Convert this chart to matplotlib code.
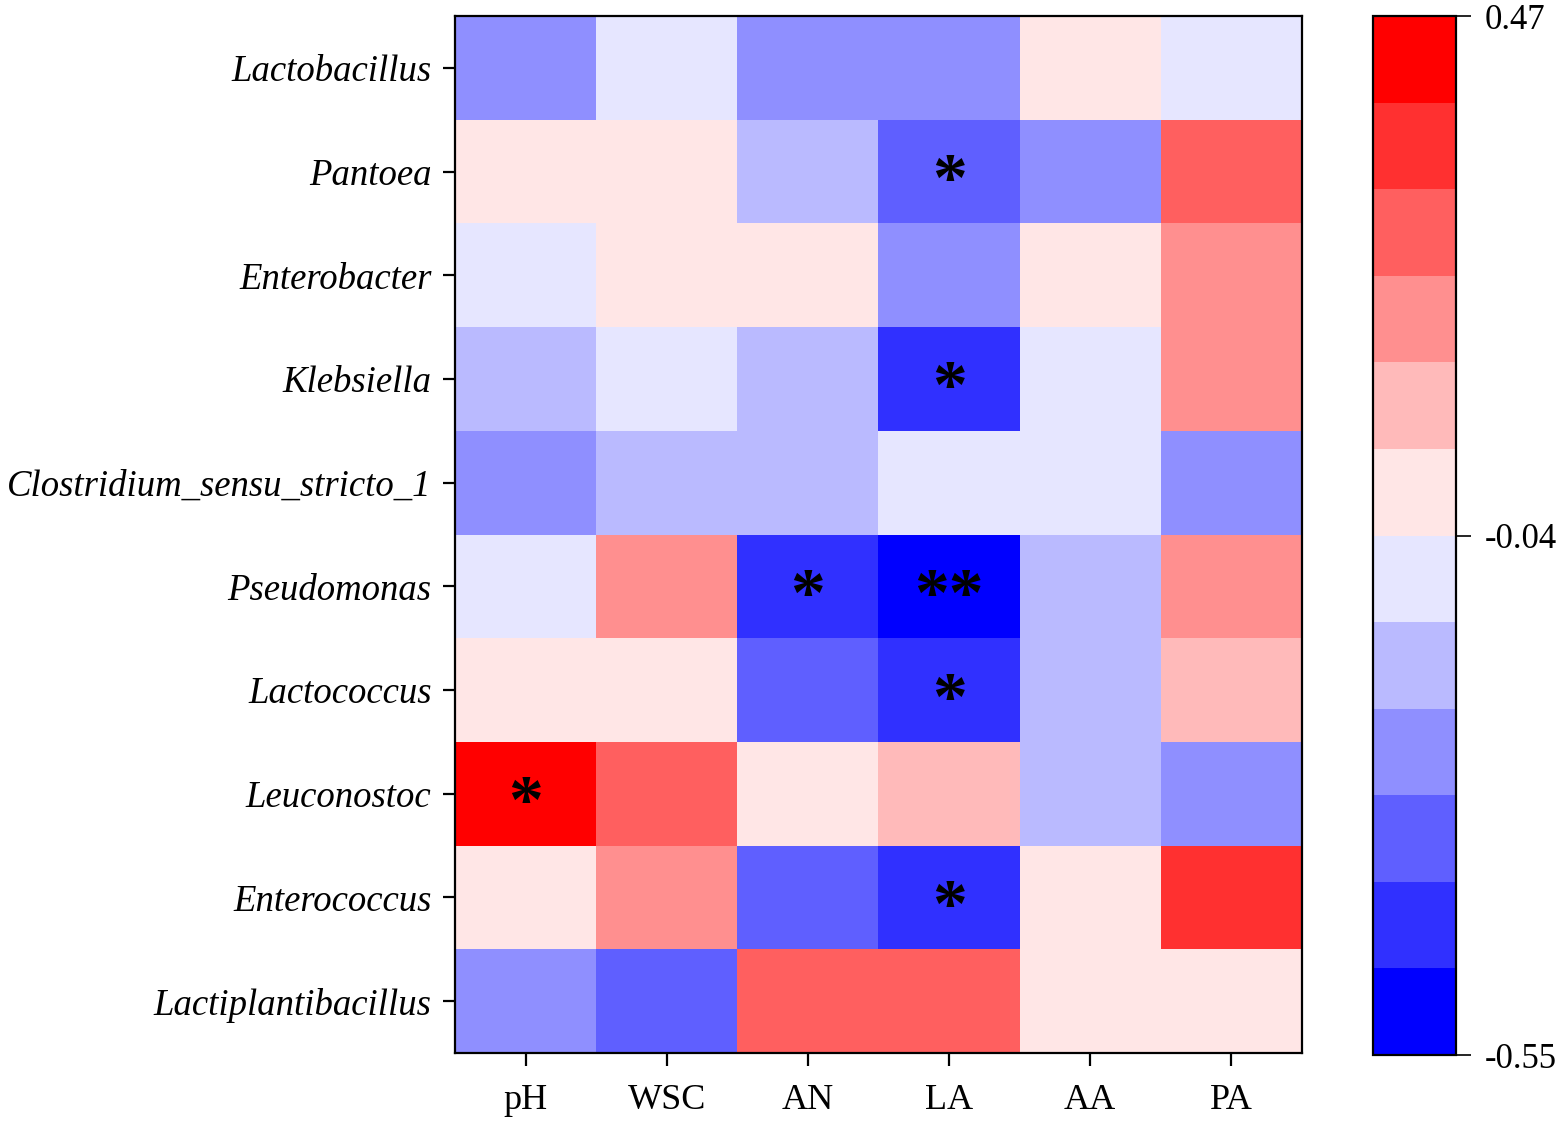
import numpy as np
import matplotlib
matplotlib.use("Agg")
import matplotlib.pyplot as plt
from matplotlib.colors import ListedColormap, BoundaryNorm

# 数据
genera = ["Lactobacillus", "Pantoea", "Enterobacter", "Klebsiella",
          "Clostridium_sensu_stricto_1", "Pseudomonas", "Lactococcus",
          "Leuconostoc", "Enterococcus", "Lactiplantibacillus"]
factors = ["pH", "WSC", "AN", "LA", "AA", "PA"]

# 相关系数 (按色阶估计)
corr = np.array([
    [-0.25, -0.08, -0.25, -0.25, 0.00, -0.08],
    [0.00, 0.00, -0.17, -0.34, -0.25, 0.26],
    [-0.08, 0.00, 0.00, -0.25, 0.00, 0.17],
    [-0.17, -0.08, -0.17, -0.43, -0.08, 0.17],
    [-0.25, -0.17, -0.17, -0.08, -0.08, -0.25],
    [-0.08, 0.17, -0.43, -0.52, -0.17, 0.17],
    [0.00, 0.00, -0.34, -0.43, -0.17, 0.09],
    [0.43, 0.26, 0.00, 0.09, -0.17, -0.25],
    [0.00, 0.17, -0.34, -0.43, 0.00, 0.34],
    [-0.25, -0.34, 0.26, 0.26, 0.00, 0.00],
])

# 显著性标记
sig = [
    ["", "", "", "", "", ""],
    ["", "", "", "*", "", ""],
    ["", "", "", "", "", ""],
    ["", "", "", "*", "", ""],
    ["", "", "", "", "", ""],
    ["", "", "*", "**", "", ""],
    ["", "", "", "*", "", ""],
    ["*", "", "", "", "", ""],
    ["", "", "", "*", "", ""],
    ["", "", "", "", "", ""],
]

vmin, vmax = -0.55, 0.47
colors = ["#0000FF", "#3030FF", "#5F5FFF", "#8F8FFF", "#BABAFF", "#E6E6FF",
          "#FFE6E6", "#FFBABA", "#FF8F8F", "#FF5F5F", "#FF3030", "#FF0000"]
cmap = ListedColormap(colors)
bounds = np.linspace(vmin, vmax, len(colors) + 1)
norm = BoundaryNorm(bounds, cmap.N)

plt.rcParams["font.family"] = ["Liberation Serif", "DejaVu Serif"]

fig = plt.figure(figsize=(15.59, 11.22), dpi=100)
ax = fig.add_axes([0.2919, 0.0615, 0.5432, 0.9242])
cax = fig.add_axes([0.8807, 0.0597, 0.0532, 0.9260])

nr, nc = corr.shape
mesh = ax.pcolormesh(np.arange(nc + 1), np.arange(nr + 1), corr,
                     cmap=cmap, norm=norm)
ax.set_xlim(0, nc)
ax.set_ylim(nr, 0)

ax.set_xticks(np.arange(nc) + 0.5)
ax.set_xticklabels(factors, fontsize=26)
ax.set_yticks(np.arange(nr) + 0.5)
ax.set_yticklabels(genera, fontsize=26.5, style="italic")
ax.tick_params(axis="y", length=9, width=1.6, pad=8)
ax.tick_params(axis="x", length=9, width=1.6, pad=13)
for s in ax.spines.values():
    s.set_linewidth(1.6)

for i in range(nr):
    for j in range(nc):
        if sig[i][j]:
            ax.text(j + 0.5, i + 0.62, sig[i][j], ha="center", va="center",
                    fontsize=50, fontweight="bold", color="black")

cb = fig.colorbar(mesh, cax=cax, ticks=[vmin, -0.04, vmax])
cb.ax.minorticks_off()
cb.ax.set_yticklabels(["-0.55", "-0.04", "0.47"])
cb.ax.tick_params(labelsize=25, length=11, width=1.2, pad=10)
cb.outline.set_linewidth(1.6)

fig.savefig("out.png", dpi=100)
